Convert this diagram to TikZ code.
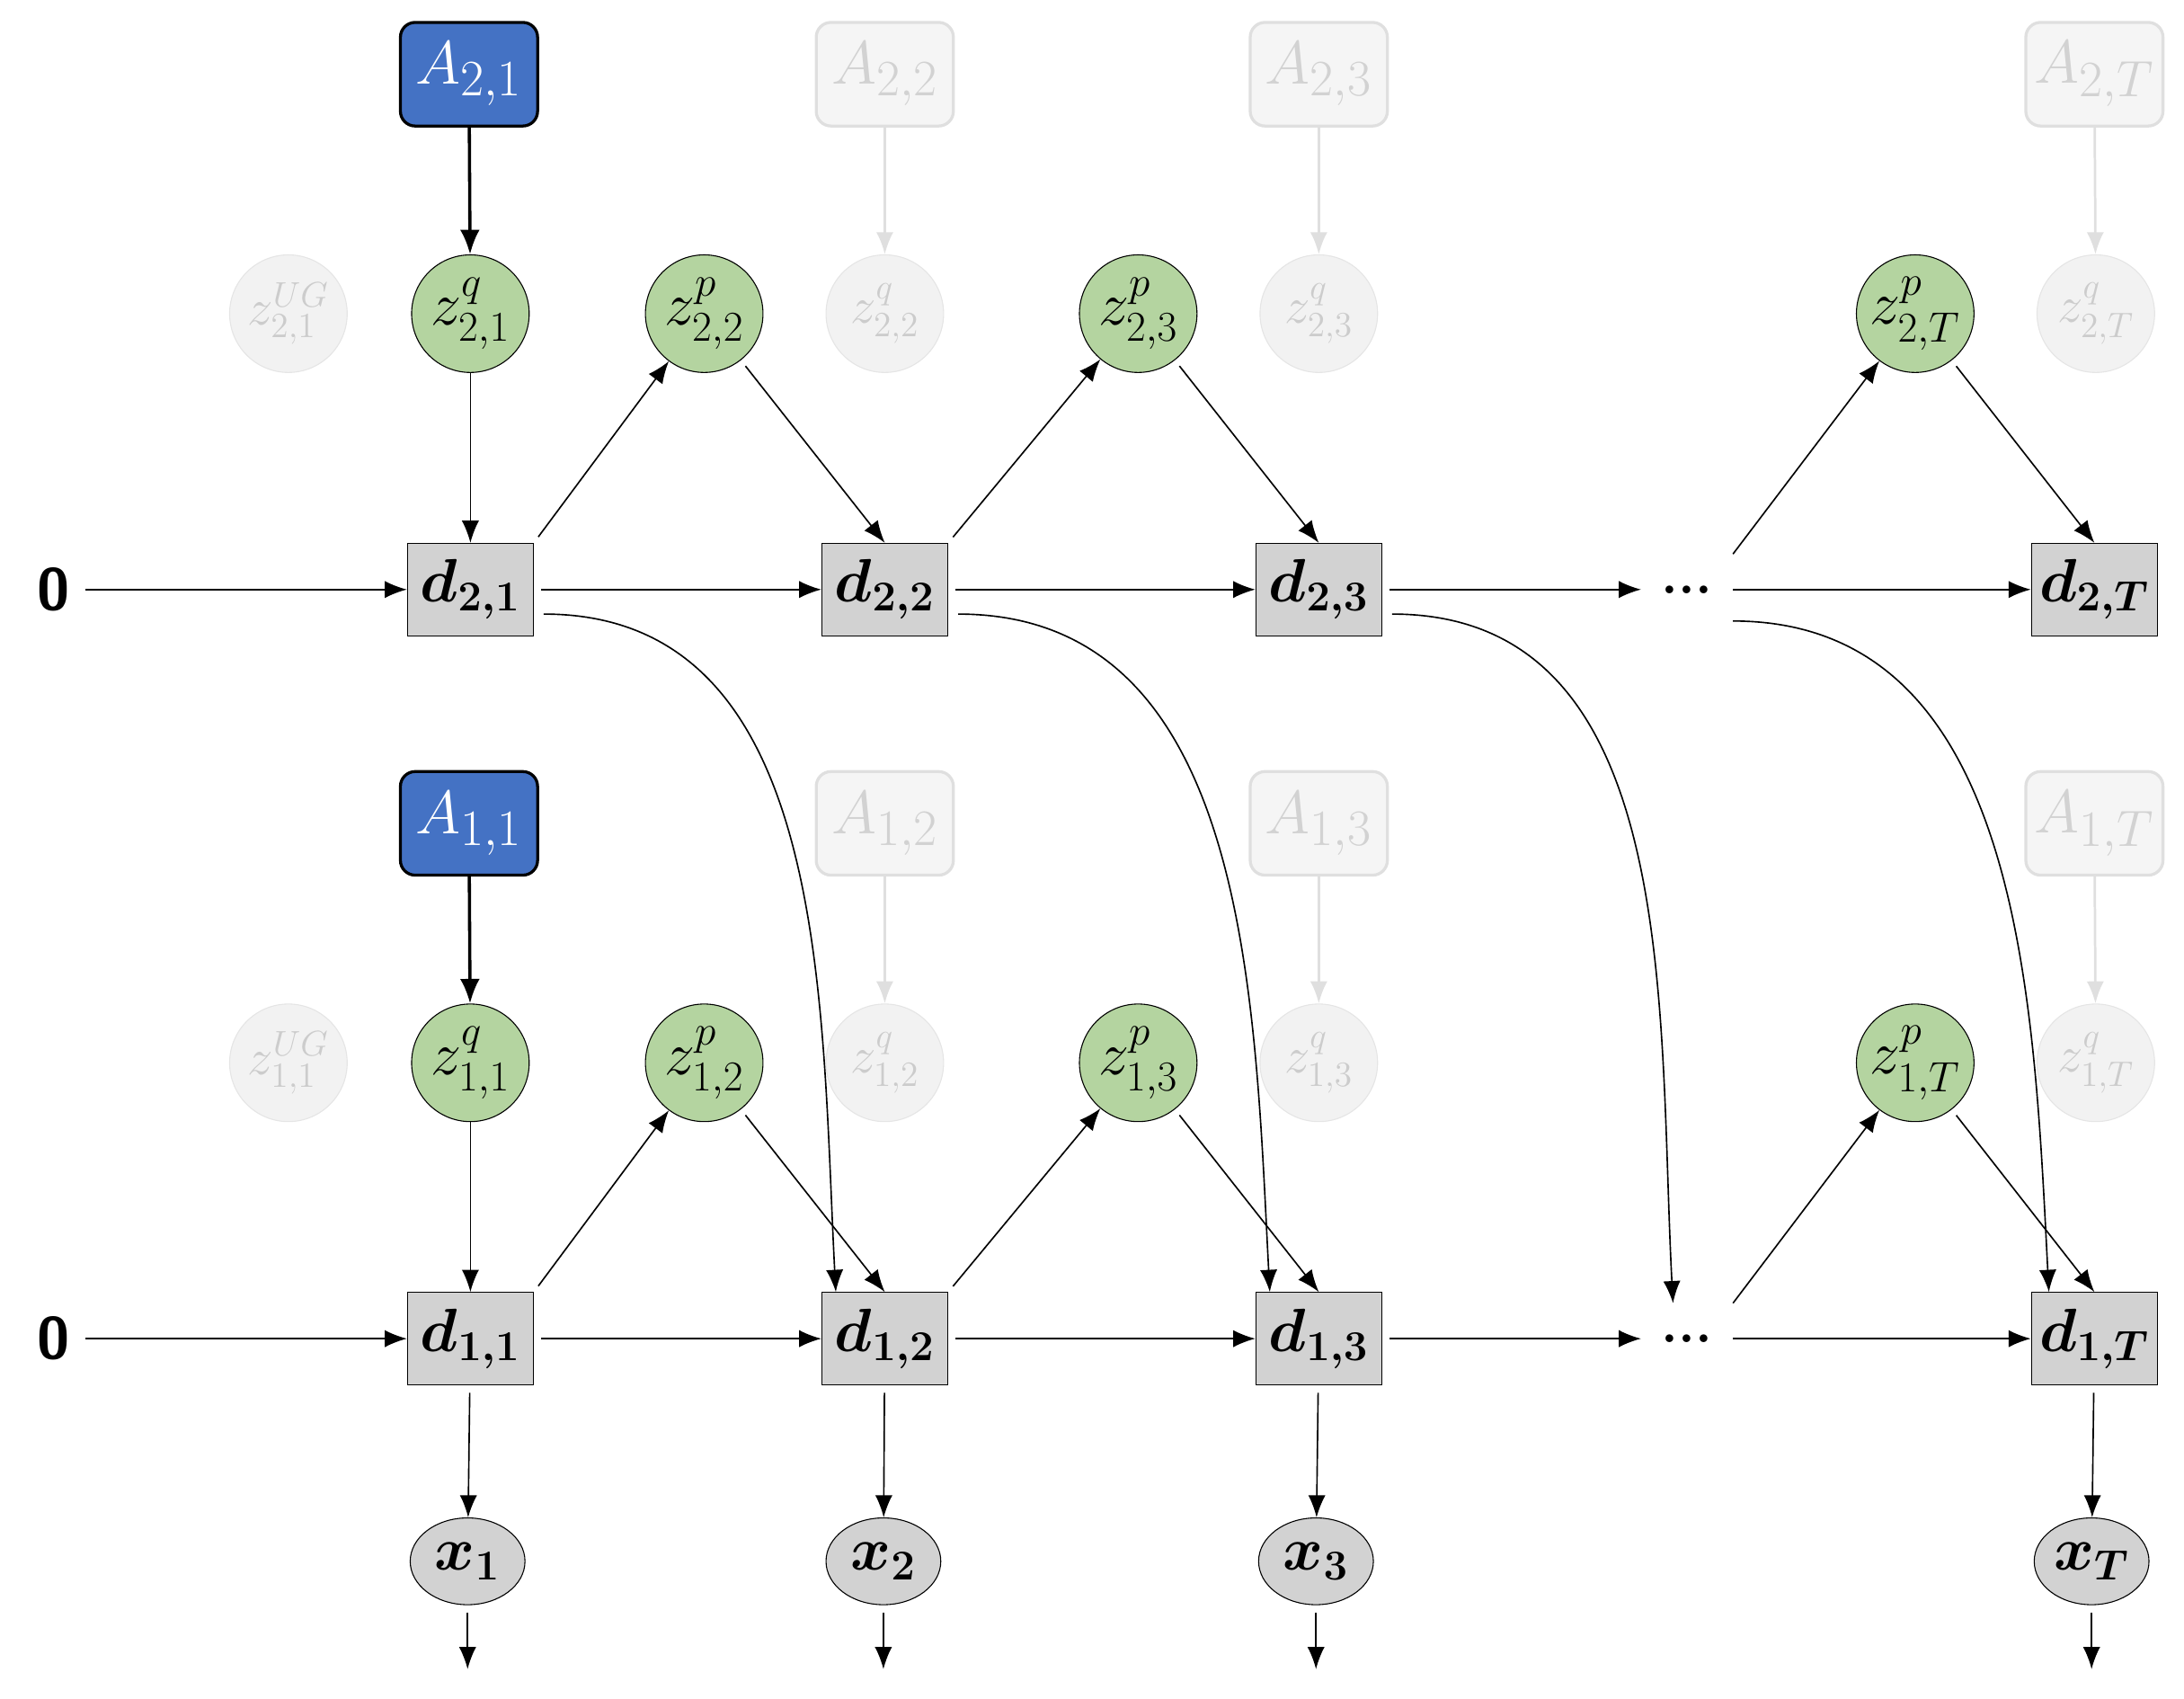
\documentclass[tikz,border=0pt]{standalone}
\usepackage{amsmath,bm}
\usetikzlibrary{arrows.meta,shapes.geometric}
\definecolor{ablue}{RGB}{68,114,196}
\definecolor{zgreen}{RGB}{180,212,160}
\definecolor{dgray}{RGB}{210,210,210}
\begin{document}
\begin{tikzpicture}[x=0.02cm,y=-0.02cm,
 Abox/.style={draw=black,line width=1.2pt,fill=ablue,rounded corners=6pt,minimum width=1.96cm,minimum height=1.48cm,text=white,font=\fontsize{29}{32}\selectfont},
 Afade/.style={draw=gray!25,line width=1.2pt,fill=gray!8,rounded corners=6pt,minimum width=1.96cm,minimum height=1.48cm,text=gray!35,font=\fontsize{29}{32}\selectfont},
 zc/.style={circle,draw=black,fill=zgreen,minimum size=1.68cm,inner sep=0pt,font=\fontsize{24}{26}\selectfont},
 zf/.style={circle,draw=gray!20,fill=gray!10,minimum size=1.68cm,inner sep=0pt,text=gray!40,font=\fontsize{22}{24}\selectfont},
 dbox/.style={draw=black,fill=dgray,minimum width=1.8cm,minimum height=1.32cm,font=\fontsize{25}{28}\selectfont},
 xell/.style={ellipse,draw=black,fill=dgray,minimum width=1.64cm,minimum height=1.24cm,inner sep=0pt,font=\fontsize{24}{26}\selectfont},
 dots/.style={minimum width=1.3cm,minimum height=1cm,font=\fontsize{22}{26}\selectfont\bfseries},
 zero/.style={font=\fontsize{24}{28}\selectfont\sffamily\bfseries},
 ar/.style={-{Latex[length=9pt,width=7pt]},line width=0.6pt},
 tar/.style={-{Latex[length=10pt,width=8pt]},line width=1.3pt},
 far/.style={-{Latex[length=9pt,width=7pt]},line width=1pt,draw=gray!25}]
\useasboundingbox (0,0) rectangle (1560,1213);
\foreach \r/\oy in {2/0,1/535}{
 \node[Abox] (A\r1) at (335,{53+\oy}) {$A_{\r,1}$};
 \node[Afade] (A\r2) at (632,{53+\oy}) {$A_{\r,2}$};
 \node[Afade] (A\r3) at (942,{53+\oy}) {$A_{\r,3}$};
 \node[Afade] (A\r T) at (1496,{53+\oy}) {$A_{\r,T}$};
 \node[zf] (zu\r) at (206,{224+\oy}) {$z^{UG}_{\r,1}$};
 \node[zc] (zq\r1) at (336,{224+\oy}) {$z^{q}_{\r,1}$};
 \node[zc] (zp\r2) at (503,{224+\oy}) {$z^{p}_{\r,2}$};
 \node[zf] (zq\r2) at (632,{224+\oy}) {$z^{q}_{\r,2}$};
 \node[zc] (zp\r3) at (813,{224+\oy}) {$z^{p}_{\r,3}$};
 \node[zf] (zq\r3) at (942,{224+\oy}) {$z^{q}_{\r,3}$};
 \node[zc] (zp\r T) at (1368,{224+\oy}) {$z^{p}_{\r,T}$};
 \node[zf] (zq\r T) at (1497,{224+\oy}) {$z^{q}_{\r,T}$};
 \node[zero] (zero\r) at (38,{421+\oy}) {0};
 \node[dbox] (d\r1) at (336,{421+\oy}) {$\bm{d}_{\bm{\r,1}}$};
 \node[dbox] (d\r2) at (632,{421+\oy}) {$\bm{d}_{\bm{\r,2}}$};
 \node[dbox] (d\r3) at (942,{421+\oy}) {$\bm{d}_{\bm{\r,3}}$};
 \node[dots] (dd\r) at (1205,{421+\oy}) {...};
 \node[dbox] (d\r T) at (1496,{421+\oy}) {$\bm{d}_{\bm{\r,T}}$};
 \draw[tar] (A\r1) -- (zq\r1);
 \draw[far] (A\r2) -- (zq\r2);
 \draw[far] (A\r3) -- (zq\r3);
 \draw[far] (A\r T) -- (zq\r T);
 \draw[ar] (zq\r1) -- (d\r1);
 \draw[ar,shorten <=3pt] (zero\r) -- (d\r1);
 \draw[ar,shorten <=3pt] (d\r1) -- (d\r2);
 \draw[ar,shorten <=3pt] (d\r2) -- (d\r3);
 \draw[ar,shorten <=3pt] (d\r3) -- (dd\r);
 \draw[ar] (dd\r) -- (d\r T);
 \draw[ar,shorten <=3pt] (d\r1.north east) -- (zp\r2);
 \draw[ar,shorten <=3pt] (d\r2.north east) -- (zp\r3);
 \draw[ar] (dd\r.north east) -- (zp\r T);
 \draw[ar,shorten <=3pt] (zp\r2) -- (d\r2.north);
 \draw[ar,shorten <=3pt] (zp\r3) -- (d\r3.north);
 \draw[ar,shorten <=3pt] (zp\r T) -- (d\r T.north);
}
\draw[ar] ([xshift=4pt,yshift=9pt]d21.south east) to[out=0,in=93] ([xshift=-0.7cm]d12.north);
\draw[ar] ([xshift=4pt,yshift=9pt]d22.south east) to[out=0,in=93] ([xshift=-0.7cm]d13.north);
\draw[ar] ([xshift=4pt,yshift=9pt]d23.south east) to[out=0,in=93] ([xshift=-0.2cm]dd1.north);
\draw[ar] ([yshift=-0.45cm]dd2.east) to[out=0,in=93] ([xshift=-0.65cm]d1T.north);
\foreach \k/\xx in {1/334,2/631,3/940,T/1494}{
 \node[xell] (x\k) at (\xx,1115) {$\bm{x}_{\bm{\k}}$};
 \coordinate (o\k) at (\xx,1192);
 \draw[ar,shorten <=3pt] (d1\k) -- (x\k);
 \draw[ar,shorten <=3pt] (x\k) -- (o\k);
}
\end{tikzpicture}
\end{document}
